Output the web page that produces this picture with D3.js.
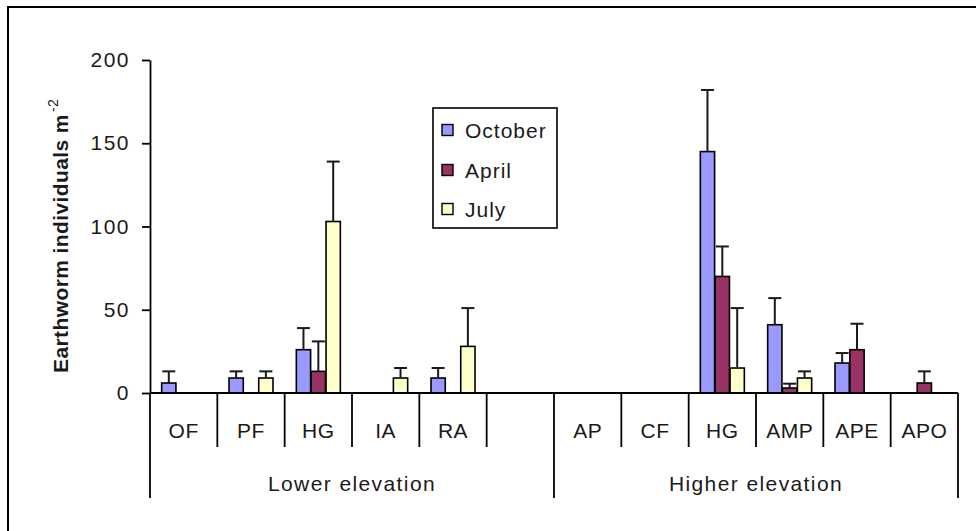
<!DOCTYPE html>
<html>
<head>
<meta charset="utf-8">
<script src="https://cdn.jsdelivr.net/npm/d3@7"></script>
<style>
  html, body { margin: 0; padding: 0; background: #fff; overflow: hidden; }
  svg { display: block; font-family: "Liberation Sans", Arial, sans-serif; }
</style>
</head>
<body>
<svg id="chart" width="976" height="531"></svg>
<script>
// Sampling sites, in plotting order (the empty slot separates the two groups)
const sites = ["OF", "PF", "HG", "IA", "RA", "", "AP", "CF", "HG", "AMP", "APE", "APO"];
const groups = ["Lower elevation", "Higher elevation"];
const groupSpans = [[0, 6], [6, 12]];   // slot index range of each group
const seasons = ["October", "April", "July"];
const seasonColors = ["#9999FF", "#993366", "#FFFFCC"];

// Mean earthworm density (individuals m-2) per site and season; null = not sampled / zero
const october    = [6, 9, 26, null, 9, null, null, null, 145, 41, 18, null];
const april      = [null, null, 13, null, null, null, null, null, 70, 3, 26, 6];
const july       = [null, 9, 103, 9, 28, null, null, null, 15, 9, null, null];
// Upper error (standard error) for each mean
const octoberErr = [7, 4, 13, null, 6, null, null, null, 37, 16, 6, null];
const aprilErr   = [null, null, 18, null, null, null, null, null, 18, 2.6, 15.6, 7];
const julyErr    = [null, 4, 36, 6, 23, null, null, null, 36, 4, null, null];
const yTicks = [0, 50, 100, 150, 200];

const seriesValues = [october, april, july];
const seriesErrors = [octoberErr, aprilErr, julyErr];

const svg = d3.select("#chart");
const font = "Liberation Sans, Arial, sans-serif";
const textColor = "#1a1a1a";

// Outer chart frame (runs off the right and bottom edges)
svg.append("rect")
  .attr("x", 8).attr("y", 7).attr("width", 1000).attr("height", 600)
  .attr("fill", "#fff").attr("stroke", "#000").attr("stroke-width", 2);

const plot = { left: 150, right: 958, top: 60, bottom: 393 };

const x = d3.scaleBand()
  .domain(d3.range(sites.length))
  .range([plot.left, plot.right])
  .paddingInner(0).paddingOuter(0);

const clusterWidth = 44;
const xInner = d3.scaleBand()
  .domain(seasons)
  .range([(x.bandwidth() - clusterWidth) / 2, (x.bandwidth() + clusterWidth) / 2])
  .paddingInner(0.04);

const y = d3.scaleLinear().domain([0, 200]).range([plot.bottom, plot.top]);

// Bars
const barData = [];
seasons.forEach((s, si) => {
  seriesValues[si].forEach((v, i) => {
    if (v != null) barData.push({ site: i, season: s, si, value: v, err: seriesErrors[si][i] });
  });
});

svg.append("g").selectAll("rect")
  .data(barData)
  .join("rect")
  .attr("x", d => x(d.site) + xInner(d.season))
  .attr("y", d => y(d.value))
  .attr("width", xInner.bandwidth())
  .attr("height", d => y(0) - y(d.value))
  .attr("fill", d => seasonColors[d.si])
  .attr("stroke", "#000")
  .attr("stroke-width", 1.6);

// Upper error bars
const errG = svg.append("g").attr("stroke", "#1a1a1a").attr("stroke-width", 2).attr("fill", "none");
barData.filter(d => d.err != null).forEach(d => {
  const cx = x(d.site) + xInner(d.season) + xInner.bandwidth() / 2;
  errG.append("line")
    .attr("x1", cx).attr("x2", cx)
    .attr("y1", y(d.value)).attr("y2", y(d.value + d.err));
  errG.append("line")
    .attr("x1", cx - 6.5).attr("x2", cx + 6.5)
    .attr("y1", y(d.value + d.err)).attr("y2", y(d.value + d.err));
});

// Y axis
const yAxis = d3.axisLeft(y).tickValues(yTicks).tickSize(8).tickSizeOuter(0).tickPadding(12);
const gy = svg.append("g").attr("transform", `translate(${plot.left},0)`).call(yAxis);
gy.select(".domain").attr("stroke", "#000").attr("stroke-width", 1.8);
gy.selectAll(".tick line").attr("stroke", "#000").attr("stroke-width", 1.8);
gy.selectAll(".tick text")
  .attr("font-family", font).attr("font-size", 21).attr("fill", textColor)
  .attr("letter-spacing", 1.5);

// X axis baseline
svg.append("line")
  .attr("x1", plot.left).attr("x2", plot.right)
  .attr("y1", y(0)).attr("y2", y(0))
  .attr("stroke", "#000").attr("stroke-width", 1.8);

// Category separators: short between sites, long at group boundaries
const groupEdges = new Set([0, 6, 12]);
const sepG = svg.append("g").attr("stroke", "#000").attr("stroke-width", 1.8);
d3.range(sites.length + 1).forEach(i => {
  const xx = i < sites.length ? x(i) : x.range()[1];
  sepG.append("line")
    .attr("x1", xx).attr("x2", xx)
    .attr("y1", y(0)).attr("y2", groupEdges.has(i) ? 498 : 447);
});

// Site labels
svg.append("g").selectAll("text")
  .data(sites)
  .join("text")
  .attr("x", (d, i) => x(i) + x.bandwidth() / 2)
  .attr("y", 438)
  .attr("text-anchor", "middle")
  .attr("font-family", font).attr("font-size", 21).attr("fill", textColor)
  .attr("letter-spacing", 0.5)
  .text(d => d);

// Group labels
svg.append("g").selectAll("text")
  .data(groups)
  .join("text")
  .attr("x", (d, i) => {
    const [a, b] = groupSpans[i];
    const x0 = x(a), x1 = b < sites.length ? x(b) : x.range()[1];
    return (x0 + x1) / 2;
  })
  .attr("y", 491)
  .attr("text-anchor", "middle")
  .attr("font-family", font).attr("font-size", 21).attr("fill", textColor)
  .attr("letter-spacing", 1.4)
  .text(d => d);

// Y axis title with superscript
const yTitle = svg.append("text")
  .attr("transform", "translate(68,373) rotate(-90)")
  .attr("font-family", font).attr("font-size", 21).attr("font-weight", "bold")
  .attr("letter-spacing", 0.4)
  .attr("fill", textColor);
yTitle.append("tspan").text("Earthworm individuals m");
yTitle.append("tspan").attr("font-size", 14).attr("font-weight", "normal")
  .attr("dx", 2).attr("dy", -10).text("-2");

// Legend
const legend = svg.append("g");
legend.append("rect")
  .attr("x", 433).attr("y", 108).attr("width", 124).attr("height", 120)
  .attr("fill", "#fff").attr("stroke", "#000").attr("stroke-width", 1.6);
const legendY = [130, 170, 209];
seasons.forEach((s, i) => {
  legend.append("rect")
    .attr("x", 442).attr("y", legendY[i] - 5.5).attr("width", 11).attr("height", 11)
    .attr("fill", seasonColors[i]).attr("stroke", "#000").attr("stroke-width", 1.4);
  legend.append("text")
    .attr("x", 465).attr("y", legendY[i]).attr("dy", "0.36em")
    .attr("font-family", font).attr("font-size", 21).attr("fill", textColor)
    .attr("letter-spacing", 1)
    .text(s);
});
</script>
</body>
</html>
